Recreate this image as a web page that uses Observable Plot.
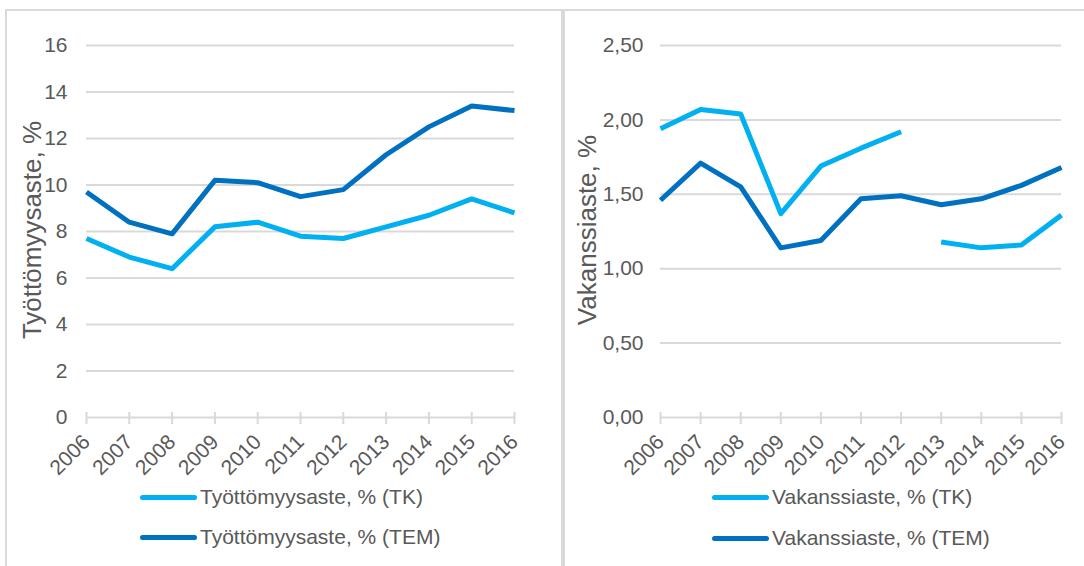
<!DOCTYPE html>
<html><head><meta charset="utf-8">
<script src="https://cdn.jsdelivr.net/npm/d3@7"></script>
<script src="https://cdn.jsdelivr.net/npm/@observablehq/plot@0.6"></script>
<style>
html,body{margin:0;padding:0;background:#fff;}
#root{position:relative;width:1084px;height:566px;overflow:hidden;background:#fff;font-family:"Liberation Sans",Arial,sans-serif;color:#595959;}
.panel{position:absolute;top:9px;height:620px;border:2px solid #d9d9d9;box-sizing:border-box;}
.chart{position:absolute;top:0;}
.ytitle{position:absolute;font-size:26px;white-space:nowrap;line-height:1;transform:translate(-50%,-50%) rotate(-90deg);}
.item{position:absolute;display:flex;align-items:center;height:40px;font-size:21px;white-space:nowrap;}
.sw{width:57px;height:5px;border-radius:3px;margin-right:3px;}
</style></head>
<body><div id="root">
<div class="panel" style="left:5px;width:558px;"></div>
<div class="panel" style="left:563px;width:560px;"></div>
<div id="left" class="chart" style="left:0px;"></div>
<div id="right" class="chart" style="left:562px;"></div>
<div class="ytitle" style="left:32px;top:230px;">Työttömyysaste, %</div>
<div class="ytitle" style="left:587px;top:230px;">Vakanssiaste, %</div>
<div class="item" style="left:140px;top:477px;"><div class="sw" style="background:#00B0F0"></div>Työttömyysaste, % (TK)</div>
<div class="item" style="left:140px;top:517px;"><div class="sw" style="background:#0070C0"></div>Työttömyysaste, % (TEM)</div>
<div class="item" style="left:712px;top:477px;"><div class="sw" style="background:#00B0F0"></div>Vakanssiaste, % (TK)</div>
<div class="item" style="left:712px;top:518px;"><div class="sw" style="background:#0070C0"></div>Vakanssiaste, % (TEM)</div>
</div>
<script>
const years = [2006, 2007, 2008, 2009, 2010, 2011, 2012, 2013, 2014, 2015, 2016];
const unempTK  = [7.7, 6.9, 6.4, 8.2, 8.4, 7.8, 7.7, 8.2, 8.7, 9.4, 8.8];
const unempTEM = [9.7, 8.4, 7.9, 10.2, 10.1, 9.5, 9.8, 11.3, 12.5, 13.4, 13.2];
const vacTK    = [1.94, 2.07, 2.04, 1.37, 1.69, 1.81, 1.92, 1.18, 1.14, 1.16, 1.36];
const vacTEM   = [1.46, 1.71, 1.55, 1.14, 1.19, 1.47, 1.49, 1.43, 1.47, 1.56, 1.68];
const vacTKBreakYear = 2013; // series break between 2012 and 2013
const unempTicks = [0, 2, 4, 6, 8, 10, 12, 14, 16];
const vacTicks = [0, 0.5, 1, 1.5, 2, 2.5];
const colorTK = "#00B0F0", colorTEM = "#0070C0";
const FONT = '"Liberation Sans", Arial, sans-serif';

function rows(values, name, breakYear) {
  return years.map((year, i) => ({
    year, value: values[i],
    seg: breakYear != null && year >= breakYear ? name + "-b" : name + "-a"
  }));
}

function chart({width, marginLeft, marginRight, yDomain, yTicks, yFormat, yPad, series}) {
  const height = 480;
  return Plot.plot({
    width, height, marginLeft, marginRight, marginTop: 45, marginBottom: 63,
    style: {fontFamily: FONT, fontSize: "21px", color: "#595959", background: "transparent", overflow: "visible"},
    x: {type: "linear", domain: [2006, 2016]},
    y: {domain: yDomain},
    marks: [
      Plot.ruleY(yTicks, {stroke: "#d9d9d9", strokeWidth: 2}),
      Plot.ruleX(years, {x: d => d, y1: 0, y2: 0, insetTop: -5, insetBottom: -7, stroke: "#d9d9d9", strokeWidth: 2}),
      Plot.axisY({ticks: yTicks, tickSize: 0, tickPadding: yPad, tickFormat: yFormat, label: null, fontSize: 21}),
      Plot.axisX({ticks: years, tickSize: 0, tickPadding: 21, tickRotate: -45, tickFormat: d => String(d), label: null, fontSize: 21}),
      ...series.map(s => Plot.line(s.data, {x: "year", y: "value", z: "seg", stroke: s.color, strokeWidth: 5, strokeLinecap: "butt", strokeLinejoin: "round"}))
    ]
  });
}

document.getElementById("left").append(chart({
  width: 560, marginLeft: 86, marginRight: 46,
  yDomain: [0, 16], yTicks: unempTicks, yFormat: d => String(d), yPad: 19,
  series: [
    {data: rows(unempTK, "tk"), color: colorTK},
    {data: rows(unempTEM, "tem"), color: colorTEM}
  ]
}));

document.getElementById("right").append(chart({
  width: 522, marginLeft: 98, marginRight: 23,
  yDomain: [0, 2.5], yTicks: vacTicks, yFormat: d => d.toFixed(2).replace(".", ","), yPad: 17,
  series: [
    {data: rows(vacTK, "tk", vacTKBreakYear), color: colorTK},
    {data: rows(vacTEM, "tem"), color: colorTEM}
  ]
}));
</script>
</body></html>
